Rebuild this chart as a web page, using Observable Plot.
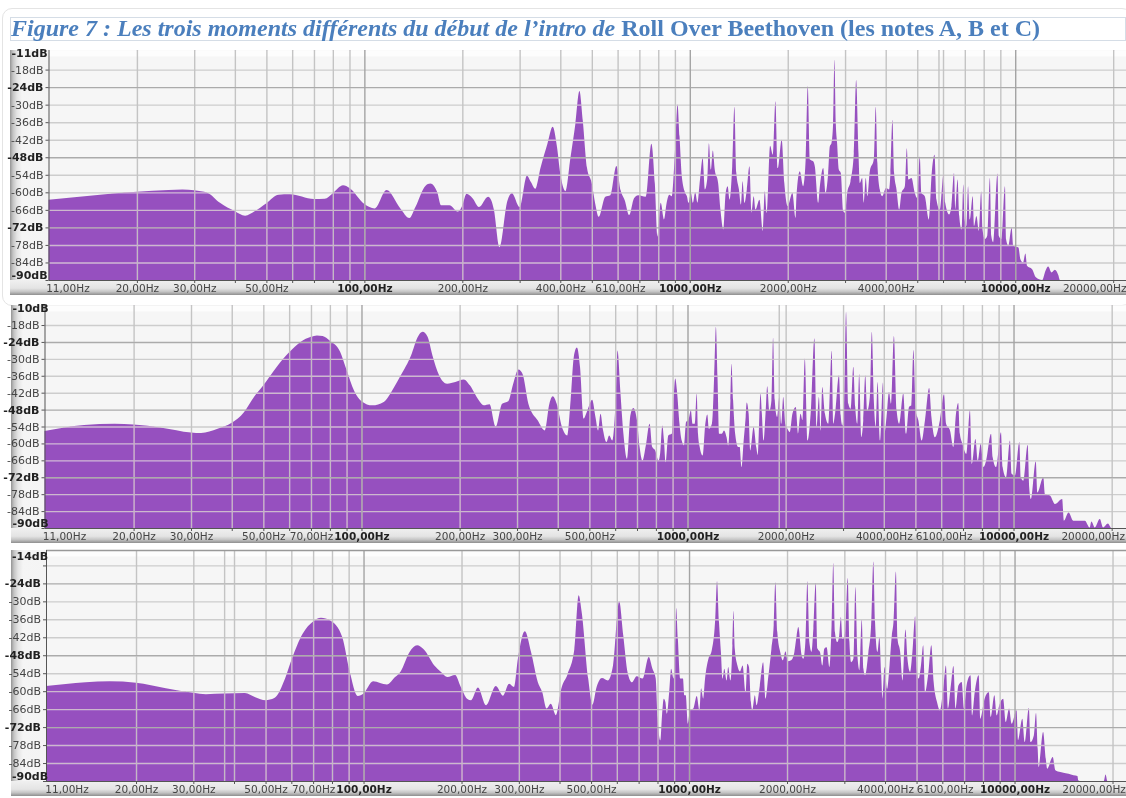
<!DOCTYPE html>
<html lang="fr">
<head>
<meta charset="utf-8">
<title>Figure 7</title>
<script src="https://cdn.jsdelivr.net/npm/d3@7"></script>
<script src="https://cdn.jsdelivr.net/npm/@observablehq/plot@0.6"></script>
<style>
html,body{margin:0;padding:0;background:#fff;overflow:hidden;width:1126px;height:798px}
#page{position:relative;width:1126px;height:798px;overflow:hidden}
.abs{position:absolute}
#title{position:absolute;left:10px;top:17px;width:1114px;height:22px;border:1px solid #d5dde6;font:italic bold 24px "Liberation Serif",serif;color:#4b7fbd;line-height:21px;white-space:nowrap;box-sizing:content-box;filter:blur(.3px)}
#title b{font-style:normal}
</style>
</head>
<body>
<div id="page"></div>
<script>
const noteA = [[10.7,-62.5],[15.4,-60.8],[20,-59.8],[25,-59.2],[27.6,-59],[30,-59.3],[33,-60.2],[36,-63.6],[40,-66.5],[43,-68],[46,-66.5],[50,-63.7],[54.5,-60.8],[59,-60.7],[70,-62.3],[75.5,-62.2],[80,-60.3],[86,-57.6],[90,-58.5],[100,-64],[107.5,-65.5],[117,-59.2],[129,-65.5],[137.5,-68.8],[143.5,-65],[154,-57.8],[159.5,-57],[167.5,-60],[172,-64.4],[182.5,-64.4],[194,-66.6],[200,-64.5],[206,-60.5],[215,-62],[225,-65],[240,-61.5],[245,-62.5],[250,-65.9],[260,-78.8],[275,-63],[284,-60.3],[300,-65],[316,-54.3],[325,-56.5],[335,-58.8],[348,-51.5],[365,-43.5],[379,-37.6],[391,-44.7],[400,-53.6],[415,-59.6],[430,-48],[445,-36.6],[458,-25.3],[469,-35.4],[483,-51.5],[500,-57],[512,-63.8],[525,-68.4],[550,-61.5],[570,-61],[595,-51],[613,-59.3],[631,-62.7],[651,-67.8],[674,-62],[694,-61],[732,-61.5],[762,-43.4],[781,-57],[795,-75.2],[814,-63.6],[833,-69.3],[849,-63.6],[865,-60.8],[880,-61.3],[894,-52.2],[905,-40.9],[917,-29.9],[930,-40.9],[945,-54.5],[968,-60.2],[980,-61.3],[991,-63.6],[1008,-60.2],[1022,-63.6],[1039,-60],[1056,-63.6],[1075,-55.6],[1095,-48.3],[1113,-59],[1131,-55.6],[1145,-43.2],[1161,-52.2],[1177,-45.7],[1193,-52.2],[1222,-56.8],[1242,-65.9],[1268,-72.7],[1289,-60.2],[1307,-57.9],[1325,-62.5],[1350,-51.1],[1371,-30.7],[1390,-53.4],[1416,-59],[1436,-64.2],[1453,-56.2],[1473,-63.6],[1497,-59],[1525,-51.1],[1547,-67],[1572,-61.3],[1591,-65.9],[1637,-62.5],[1676,-73.2],[1700,-59.6],[1724,-67],[1765,-44.1],[1799,-47.1],[1833,-28.8],[1863,-51.7],[1916,-42],[1952,-56.8],[1998,-64.7],[2067,-60.2],[2113,-68.7],[2127,-61.3],[2178,-52.8],[2230,-57.9],[2270,-48.8],[2304,-23.6],[2340,-48.8],[2393,-49.4],[2422,-51.1],[2480,-63.6],[2510,-57.9],[2570,-51.7],[2612,-60.2],[2662,-53.4],[2693,-44.3],[2725,-43.2],[2757,-36.4],[2783,-14.6],[2810,-36.4],[2836,-43.2],[2870,-52.2],[2911,-53.4],[2960,-66.4],[3002,-67],[3045,-60.2],[3118,-56.2],[3192,-46.6],[3245,-21.6],[3299,-46.6],[3330,-56.8],[3385,-55.1],[3425,-63.6],[3474,-55.1],[3515,-61.3],[3574,-52.8],[3675,-48.8],[3727,-30.7],[3771,-50],[3836,-59],[3900,-61.3],[4011,-58.5],[4097,-59],[4136,-53.4],[4195,-35.2],[4245,-53.4],[4317,-59],[4399,-65.9],[4472,-60.2],[4579,-57.9],[4644,-44.9],[4698,-55.6],[4800,-55.1],[4915,-60.2],[4996,-61.9],[5090,-47.7],[5150,-60.2],[5273,-61.3],[5428,-69.3],[5545,-52.8],[5650,-47.1],[5729,-62.5],[5866,-65.9],[6020,-53.9],[6094,-63.6],[6264,-67.6],[6367,-64.7],[6485,-53.4],[6544,-65.9],[6651,-55.6],[6730,-68.1],[6840,-72.7],[6925,-57.3],[6990,-69.3],[7082,-71.5],[7163,-57.9],[7250,-69.3],[7402,-61.3],[7472,-71.5],[7600,-68.1],[7730,-73.2],[7860,-59.6],[7935,-72.7],[8070,-76],[8204,-74.9],[8360,-55.1],[8440,-74.9],[8565,-77.2],[8820,-53.6],[8902,-74.9],[9070,-76],[9300,-57.9],[9370,-76],[9525,-78.3],[9750,-72.1],[9860,-78.3],[10230,-78.9],[10375,-82.9],[10570,-84],[10745,-80.9],[10870,-85.1],[11270,-86.3],[11575,-89.1],[12100,-90],[12390,-86.8],[12630,-85.4],[12930,-87.4],[13240,-86.5],[13560,-88.3],[13720,-90],[21900,-90]];

const noteB = [[10.66,-55.6],[14.1,-53.5],[17.5,-53],[20,-53.3],[24.4,-54.4],[30,-56.1],[32.2,-56.3],[36.2,-54.8],[40,-52.7],[43.6,-48.9],[46.8,-43.5],[50,-39.4],[55,-32.8],[60,-27.7],[65,-24],[70,-22.2],[73,-21.7],[76,-21.9],[80,-23.6],[86,-27.5],[90,-34],[95,-41.4],[100,-45],[108,-46.5],[117,-45.3],[126,-40],[132,-35.8],[142,-28.7],[148.5,-22.4],[154,-20.4],[159.5,-22.2],[165,-28.7],[173,-35.8],[183,-38.8],[194,-38.2],[206,-37.3],[215,-39.4],[229,-44.7],[237,-46.5],[247,-46.1],[258,-54],[270,-45.9],[282,-45],[292,-38.8],[303,-33.8],[312,-35.4],[325,-45.9],[347,-51.8],[365,-55.4],[377,-45.9],[386,-43.3],[397,-45.9],[412,-54.2],[428,-57.2],[438,-44.7],[448,-29.3],[458,-26],[468,-32.8],[480,-51.2],[493,-48.3],[510,-44.5],[522,-50.6],[532,-55.4],[541,-49.5],[551,-55.4],[564,-59.5],[575,-57.2],[588,-59],[602,-44.7],[610,-27],[622,-41.1],[636,-56.6],[652,-65.5],[668,-50],[682,-47.4],[700,-51.8],[713,-61.3],[727,-66.1],[745,-60.7],[765,-53],[780,-61.3],[796,-62.5],[815,-66.1],[824,-63.7],[837,-53.6],[847,-59],[857,-66.7],[873,-57.2],[895,-56.6],[906,-44.7],[917,-37],[928,-41.1],[945,-53],[960,-59],[976,-60.7],[990,-52.4],[1006,-51.8],[1024,-48.3],[1036,-53],[1053,-53],[1067,-42.3],[1077,-56.6],[1090,-61.3],[1113,-64.3],[1134,-53],[1150,-49.7],[1163,-54.8],[1188,-53],[1207,-36.4],[1222,-18.6],[1236,-36.4],[1250,-56.6],[1274,-56.6],[1294,-55.4],[1318,-57.8],[1333,-60.7],[1354,-44.7],[1364,-31.7],[1380,-44.7],[1400,-56.6],[1430,-61.3],[1446,-61.3],[1464,-68.4],[1487,-59],[1508,-50.6],[1519,-45.5],[1540,-49.5],[1558,-62.5],[1595,-54.2],[1625,-61.3],[1644,-64.3],[1675,-42.3],[1691,-49.5],[1711,-59],[1735,-49.5],[1756,-39.7],[1784,-48.3],[1809,-44.7],[1830,-22.5],[1852,-44.7],[1882,-50.6],[1912,-43.5],[1939,-53],[1966,-43.5],[1994,-53],[2026,-54.8],[2060,-56],[2098,-49.5],[2148,-47.1],[2183,-56.6],[2222,-49.5],[2253,-51.8],[2290,-29.9],[2335,-59],[2386,-49.5],[2450,-22.7],[2490,-54.2],[2530,-43.5],[2560,-55.4],[2590,-40],[2640,-49.5],[2703,-53],[2768,-27.1],[2800,-53],[2835,-49.5],[2915,-35.8],[2950,-50],[2985,-53.6],[3022,-44.7],[3064,-13.4],[3115,-45.9],[3166,-47.7],[3225,-32.8],[3270,-47.1],[3316,-53],[3362,-35.4],[3410,-57.8],[3460,-51.8],[3510,-35.8],[3558,-48.3],[3624,-43.5],[3675,-20.4],[3728,-44.7],[3780,-54.2],[3828,-38.2],[3896,-59],[3977,-38.4],[4015,-56.6],[4078,-50.6],[4150,-41.7],[4207,-45.9],[4296,-21.9],[4380,-48.3],[4460,-53],[4590,-42.3],[4680,-56.6],[4780,-47.1],[4860,-46.5],[4930,-26.9],[5010,-48.3],[5105,-51.8],[5225,-59],[5350,-51.8],[5510,-40.3],[5600,-50.6],[5740,-57.8],[5945,-51.8],[6120,-42.6],[6210,-53],[6385,-55.4],[6535,-61.3],[6660,-49.5],[6765,-45.7],[6845,-56.6],[6970,-60.1],[7165,-63.7],[7350,-48.3],[7450,-67.3],[7640,-58.4],[7770,-66.1],[7930,-60.1],[8090,-68.4],[8245,-66.1],[8530,-56.6],[8630,-64.9],[8840,-68.4],[9150,-56],[9260,-68.4],[9480,-72],[9750,-59],[9870,-70.8],[10100,-71.4],[10420,-59.5],[10520,-72],[10720,-73.2],[11050,-60.5],[11170,-75.6],[11300,-79.7],[11700,-66.3],[11840,-77.4],[12340,-72],[12490,-77.9],[12940,-78.5],[13400,-81.5],[14100,-79.7],[14270,-87.4],[14750,-84.5],[15240,-87.4],[15800,-87.4],[16550,-87.4],[17120,-89.8],[17330,-87.7],[17750,-89.8],[18390,-86.8],[18820,-89.8],[19480,-88.4],[19950,-90],[22130,-90]];

const noteC = [[10.58,-58.3],[14,-57],[16.6,-56.7],[20,-57.2],[24.7,-59],[30,-60.5],[32.8,-61],[37.3,-60.8],[43.2,-60.6],[46.5,-62],[50,-63],[53.2,-62.3],[57.4,-55.8],[60,-49.7],[65,-40.8],[70,-36.7],[74,-35.5],[79,-36.4],[86,-41.9],[90.5,-53],[96,-61.6],[100,-60.8],[107,-56.7],[118,-57.8],[125,-55.3],[130,-53.4],[138.5,-46.9],[146,-44.7],[153,-46],[165,-51.4],[173,-53.6],[181,-55.3],[191,-54.6],[199,-58.6],[208,-62.5],[214,-63],[224.6,-58.8],[238,-64.7],[255,-58.3],[268,-61.5],[280,-57.5],[290,-58.6],[298,-49.2],[313,-40],[327,-46.9],[343,-56.9],[354,-60.3],[365,-65.8],[376,-64.2],[390,-68],[405,-59.2],[424,-54.2],[444,-46.2],[458,-28],[468,-33.6],[490,-55.8],[505,-64.5],[520,-58.6],[540,-55.6],[563,-56.4],[584,-51.4],[610,-30],[628,-41.4],[648,-53.9],[668,-57],[690,-55],[720,-55.8],[752,-48.6],[772,-52.5],[790,-55.8],[801,-69.2],[816,-76.4],[826,-68.1],[836,-62.5],[846,-63.6],[855,-67.5],[869,-60.3],[881,-52.5],[896,-55.8],[907,-42.5],[913,-32.2],[924,-42.5],[939,-55.8],[958,-55.8],[968,-61.4],[977,-61.4],[991,-70.9],[1007,-66.4],[1031,-65.8],[1056,-61.6],[1076,-66.4],[1089,-59],[1106,-62.5],[1120,-55.8],[1147,-49.2],[1174,-46.4],[1202,-36.9],[1219,-23.3],[1236,-36.9],[1253,-46.9],[1268,-55.8],[1283,-52.5],[1304,-56.4],[1319,-51.9],[1340,-56.4],[1359,-44.7],[1369,-33.2],[1382,-45.8],[1408,-51.4],[1434,-53.4],[1461,-51.4],[1492,-60.3],[1510,-50.8],[1528,-51.9],[1549,-63.6],[1564,-66.2],[1593,-61.4],[1612,-64.7],[1650,-58.1],[1689,-50.3],[1717,-62.5],[1749,-55.8],[1791,-45.8],[1820,-38],[1841,-23.6],[1867,-40.2],[1906,-46.9],[1942,-49.7],[1978,-46.7],[2010,-50],[2058,-49.7],[2107,-46.9],[2141,-41.4],[2166,-38.6],[2218,-48],[2245,-49.2],[2277,-43.6],[2309,-23.3],[2342,-43.6],[2380,-46.9],[2410,-39.1],[2450,-23.8],[2484,-45.8],[2525,-46.9],[2567,-51.4],[2603,-45.8],[2646,-45.3],[2702,-51.9],[2741,-38],[2774,-17.2],[2807,-40.2],[2853,-43.6],[2893,-41.4],[2927,-35.2],[2962,-42.5],[3016,-40.2],[3073,-22.2],[3110,-43.6],[3147,-50.3],[3198,-49.2],[3243,-25.2],[3290,-48],[3337,-53],[3393,-36],[3433,-52.5],[3474,-54.7],[3557,-46.9],[3625,-38],[3683,-16.7],[3728,-36.9],[3790,-46.9],[3846,-41.9],[3892,-53.6],[3928,-62.5],[3985,-51.9],[4060,-59.2],[4130,-51.4],[4197,-41.4],[4247,-36.9],[4320,-20],[4370,-42.5],[4453,-46.9],[4525,-56.4],[4622,-39.4],[4688,-49.2],[4778,-53.6],[4855,-46.9],[4950,-35],[5005,-52.5],[5075,-55.8],[5158,-51.4],[5240,-44.7],[5312,-60.3],[5424,-54.7],[5550,-44.7],[5643,-56.9],[5778,-63.6],[5900,-66.4],[6053,-58.1],[6152,-51.4],[6240,-65.8],[6372,-58.1],[6490,-51.6],[6583,-65.8],[6722,-58.1],[6880,-56.9],[6992,-65.8],[7122,-58.1],[7322,-54.7],[7407,-68.1],[7546,-60.3],[7760,-54.7],[7850,-69.2],[8090,-62.5],[8335,-60.3],[8450,-68.6],[8670,-61.4],[8810,-68.1],[8975,-64.7],[9225,-62.5],[9400,-70.3],[9620,-65.8],[9800,-70.9],[10140,-66.4],[10250,-76.4],[10565,-69.2],[10745,-77],[11065,-65.5],[11195,-77],[11460,-74.8],[11640,-67.3],[11780,-79.2],[11860,-85.3],[12240,-73.6],[12470,-82.5],[12600,-85.9],[13100,-82],[13350,-86.4],[13830,-87],[14650,-87.6],[15170,-88.1],[15600,-88.3],[15710,-89.8],[16000,-90],[18800,-90],[19040,-87.8],[19280,-90],[22000,-90]];

const gridHz = [20,30,40,50,60,70,80,90,100,200,300,400,500,600,700,800,900,1000,2000,3000,4000,5000,6000,7000,8000,9000,10000,20000];
const decadeHz = [100,1000,10000];
const plainDb = [-18,-30,-36,-42,-54,-60,-66,-78,-84];
const boldDb = [-24,-48,-72];
const labelsA = [[20,"20,00Hz"],[30,"30,00Hz"],[50,"50,00Hz"],[200,"200,00Hz"],[400,"400,00Hz"],[610,"610,00Hz"],[2000,"2000,00Hz"],[4000,"4000,00Hz"]];
const labelsBC = [[20,"20,00Hz"],[30,"30,00Hz"],[50,"50,00Hz"],[70,"70,00Hz"],[200,"200,00Hz"],[300,"300,00Hz"],[500,"500,00Hz"],[2000,"2000,00Hz"],[4000,"4000,00Hz"],[6100,"6100,00Hz"]];
const boldLabels = [[100,"100,00Hz"],[1000,"1000,00Hz"],[10000,"10000,00Hz"]];

const panels = [
 {data:noteA, hz:[10.7,21900], top:-11.3, topLabel:"-11dB", topDy:3, y0:50, yB:280, left:48.5, barLeft:10, labels:labelsA, extraHz:[5810], shown:plainDb, frameTop:false},
 {data:noteB, hz:[10.66,22130], top:-10.9, topLabel:"-10dB", topDy:3, y0:305, yB:528, left:44.5, barLeft:11, labels:labelsBC, extraHz:[1905], shown:plainDb, frameTop:false},
 {data:noteC, hz:[10.58,22000], top:-12.85, topLabel:"-14dB", topDy:6, y0:550, yB:781, left:46, barLeft:10.5, labels:labelsBC, extraHz:[37.3], shown:plainDb.slice(1), frameTop:true}
];

const fmt = d => d + "dB";
const font = '"DejaVu Sans",sans-serif';
const fillColor = "#9650bf";
const overFill = "#d0b8e0";
const page = document.getElementById("page");
function box(css){const d=document.createElement("div");d.className="abs";d.style.cssText=css;page.appendChild(d);return d;}

box("left:2px;top:8px;width:1130px;height:298px;border:1px solid #e4e4e4;border-radius:10px;box-sizing:border-box");
const t=document.createElement("div");t.id="title";
t.innerHTML="Figure 7 : Les trois moments différents du début de l’intro de <b>Roll Over Beethoven (les notes A, B et C)</b>";
page.appendChild(t);

for(const p of panels){
  const barH=15;
  box(`left:${p.barLeft}px;top:${p.y0}px;width:${p.left-p.barLeft}px;height:${p.yB-p.y0+barH}px;background:linear-gradient(90deg,#949494 0,#c4c4c4 3px,#e4e4e4 7px,#f5f5f5 12px,#f4f4f4 100%)`);
  box(`left:${p.barLeft}px;top:${p.yB}px;width:${1126-p.barLeft}px;height:${barH}px;background:linear-gradient(#f0f0f0 0,#e4e4e4 55%,#c4c4c4 78%,#8e8e8e 100%)`);

  const vertical = gridHz.filter(h=>!decadeHz.includes(h)).concat(p.extraHz);
  const light = {stroke:overFill,strokeWidth:1.4,mixBlendMode:"lighten"};
  const gray = c => ({stroke:c,strokeWidth:1.4,mixBlendMode:"darken"});
  const plot=Plot.plot({
    width:1126,height:p.yB-p.y0+16,
    marginTop:0,marginBottom:16,marginLeft:p.left,marginRight:0,
    style:{position:"absolute",left:"0px",top:p.y0+"px",background:"transparent",overflow:"visible",maxWidth:"none",fontFamily:font,filter:"blur(0.35px)"},
    x:{type:"log",domain:p.hz,axis:null},
    y:{domain:[-90,p.top],axis:null},
    marks:[
      Plot.frame({fill:"#f6f6f6",stroke:"none"}),
      Plot.ruleY([p.top],{stroke:"#fff",strokeWidth:6,dy:3,strokeOpacity:.8}),
      Plot.areaY(p.data,{x:d=>d[0],y1:()=>-90,y2:d=>d[1],fill:fillColor,curve:"monotone-x"}),
      Plot.ruleY(boldDb.concat(plainDb),light),
      Plot.ruleX(gridHz.concat(p.extraHz),light),
      Plot.ruleY(plainDb,gray("#cdcdcd")),
      Plot.ruleY(boldDb,gray("#ababab")),
      Plot.ruleX(vertical,gray("#c4c4c4")),
      Plot.ruleX(decadeHz,gray("#a4a4a4")),
      ...(p.frameTop?[Plot.ruleY([p.top],{stroke:"#999",strokeWidth:1.5})]:[]),
      Plot.ruleX([p.hz[0]],{stroke:"#555",strokeWidth:1}),
      Plot.ruleY([-90],{stroke:"#555",strokeWidth:1}),
      Plot.axisY({ticks:plainDb.concat(boldDb,[-90]),tickSize:3,tickFormat:()=>"",stroke:"#555"}),
      Plot.axisY({ticks:p.shown,tickSize:3,tickPadding:0,tickFormat:fmt,fontSize:11,fill:"#444",stroke:"none",dx:-2.5}),
      Plot.axisY({ticks:boldDb,tickSize:3,tickPadding:0,tickFormat:fmt,fontSize:11,fontWeight:"bold",fill:"#222",stroke:"none",dx:-2.5}),
      Plot.text([p.top],{y:d=>d,frameAnchor:"left",text:()=>p.topLabel,dx:p.barLeft+1-p.left,dy:p.topDy,fontSize:11,fontWeight:"bold",fill:"#222",textAnchor:"start"}),
      Plot.text([-90],{y:d=>d,frameAnchor:"left",text:()=>"-90dB",dx:p.barLeft+1-p.left,dy:-5,fontSize:11,fontWeight:"bold",fill:"#222",textAnchor:"start"}),
      Plot.axisX({ticks:gridHz,tickSize:3,tickFormat:()=>"",stroke:"#555"}),
      Plot.text(p.labels,{x:d=>d[0],y:()=>-90,text:d=>d[1],dy:8,fontSize:10.5,fill:"#444"}),
      Plot.text(boldLabels,{x:d=>d[0],y:()=>-90,text:d=>d[1],dy:8,fontSize:10.5,fontWeight:"bold",fill:"#222"}),
      Plot.text([[11,"11,00Hz"]],{x:d=>d[0],y:()=>-90,text:d=>d[1],dy:8,dx:15,fontSize:10.5,fill:"#444"}),
      Plot.text([[20000,"20000,00Hz"]],{x:d=>d[0],y:()=>-90,text:d=>d[1],dy:8,dx:-19,fontSize:10.5,fill:"#444"})
    ]
  });
  page.appendChild(plot);
}
</script>
</body>
</html>
